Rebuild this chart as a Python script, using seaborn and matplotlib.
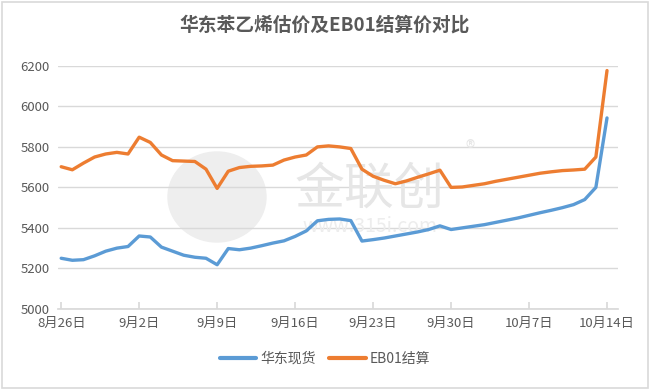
import numpy as np
import pandas as pd
import seaborn as sns
import matplotlib.pyplot as plt
from matplotlib.patches import Ellipse, Rectangle

# day 0 = 8月26日, one value per day up to 10月14日
east_spot = [5250, 5240, 5243, 5262, 5285, 5300, 5308, 5360, 5355, 5305,
             5285, 5265, 5255, 5250, 5218, 5298, 5292, 5300, 5312, 5325,
             5336, 5358, 5385, 5435, 5442, 5444, 5436, 5335, 5342, 5350,
             5360, 5370, 5380, 5392, 5410, 5392, 5400, 5408, 5416, 5427,
             5438, 5449, 5462, 5475, 5487, 5500, 5515, 5540, 5600, 5943]
eb01 = [5702, 5687, 5720, 5750, 5765, 5773, 5765, 5848, 5822, 5760,
        5732, 5730, 5728, 5690, 5595, 5680, 5698, 5704, 5706, 5710,
        5735, 5750, 5760, 5800, 5805, 5800, 5792, 5690, 5655, 5635,
        5618, 5632, 5650, 5667, 5685, 5600, 5602, 5610, 5618, 5630,
        5640, 5650, 5660, 5670, 5677, 5683, 5686, 5690, 5750, 6177]
tick_days = [0, 7, 14, 21, 28, 35, 42, 49]
tick_labels = ["8月26日", "9月2日", "9月9日", "9月16日", "9月23日", "9月30日", "10月7日", "10月14日"]

df = pd.DataFrame({"day": np.arange(len(east_spot)), "华东现货": east_spot, "EB01结算": eb01})
long = df.melt(id_vars="day", var_name="series", value_name="price")

sns.set_theme(style="white")
plt.rcParams["font.family"] = ["Noto Sans CJK SC", "DejaVu Sans"]

fig = plt.figure(figsize=(6.5, 3.9), dpi=100)
ax = fig.add_axes([0.089, 0.208, 0.862, 0.623])

# watermark, kept under the lines
ft = fig.transFigure
ax.add_patch(Ellipse((217 / 650, 1 - 197 / 390), 98 / 650, 90 / 390, transform=ft,
                     color="#eeeeee", zorder=0.5, clip_on=False))
ax.text(370 / 650, 1 - 190 / 390, "金联创", fontsize=36, color="#e6e6e6", ha="center", va="center",
        transform=ft, zorder=0.6)
ax.text(470 / 650, 1 - 150 / 390, "®", fontsize=14, color="#e6e6e6", ha="center", va="center",
        transform=ft, zorder=0.6)
ax.text(370 / 650, 1 - 226 / 390, "www.315i.com", fontsize=14, color="#ededed", ha="center", va="center",
        transform=ft, zorder=0.6)

sns.lineplot(data=long, x="day", y="price", hue="series", palette=["#5B9BD5", "#ED7D31"],
             linewidth=2.4, ax=ax, legend=False, zorder=3)

ax.set_xlim(-0.3, 50)
ax.set_ylim(5000, 6200)
ax.set_yticks(range(5000, 6201, 200))
ax.set_xticks(tick_days)
ax.set_xticklabels(tick_labels)
ax.yaxis.grid(True, color="#d9d9d9", linewidth=1, zorder=1)
ax.set_axisbelow(True)
ax.set_xlabel("")
ax.set_ylabel("")
for s in ["left", "right", "top"]:
    ax.spines[s].set_visible(False)
ax.spines["bottom"].set_color("#d9d9d9")
ax.tick_params(axis="x", direction="in", length=5, color="#d9d9d9", bottom=True, labelsize=9.5,
               labelcolor="#595959", pad=6)
ax.tick_params(axis="y", length=0, labelsize=9.5, labelcolor="#595959", pad=6)

fig.text(0.5, 1 - 25 / 390, "华东苯乙烯估价及EB01结算价对比", fontsize=13.5, fontweight="bold",
         color="#595959", ha="center", va="center")

# legend
handles = [plt.Line2D([], [], color="#5B9BD5", linewidth=3), plt.Line2D([], [], color="#ED7D31", linewidth=3)]
fig.legend(handles, ["华东现货", "EB01结算"], loc="center", bbox_to_anchor=(0.5, 1 - 359 / 390),
           ncol=2, frameon=False, fontsize=10, handlelength=2.6, handletextpad=0.3, columnspacing=1.0,
           labelcolor="#595959")

fig.patches.append(Rectangle((0.003, 0.004), 0.994, 0.992, transform=fig.transFigure,
                             fill=False, edgecolor="#d9d9d9", linewidth=1.2))

fig.savefig("out.png", dpi=100)
